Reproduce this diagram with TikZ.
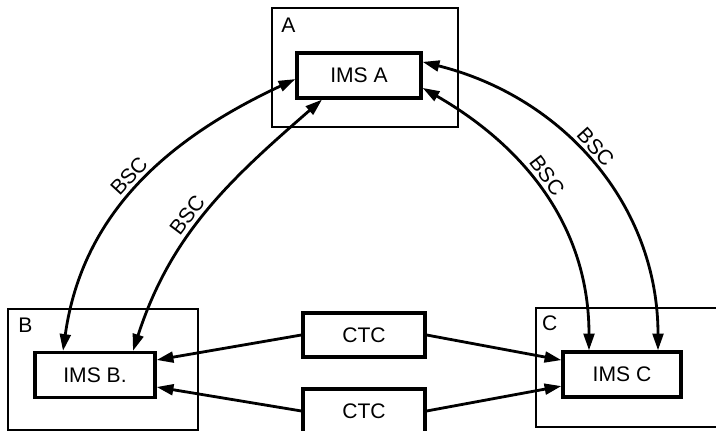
\documentclass[tikz,border=0pt]{standalone}
\usepackage{fontspec}
\setmainfont{Liberation Sans}
\usetikzlibrary{arrows.meta,calc,positioning}

\begin{document}
\begin{tikzpicture}[font=\fontsize{15}{18}\selectfont,
  site/.style={draw,line width=2.1pt,minimum height=2.975cm,inner sep=0pt},
  box/.style={draw,line width=2.3pt,minimum width=3cm,minimum height=1.125cm},
  lbl/.style={inner sep=0pt},
  link/.style={line width=2pt,-{Triangle[length=4.2mm,width=2.7mm]}},
  bsc/.style={line width=2pt,{Triangle[length=4.2mm,width=2.7mm]}-{Triangle[length=4.2mm,width=2.7mm]}}]
  \useasboundingbox (0,0) rectangle (17.9,10.775);
  \clip (0,0) rectangle (17.9,10.775);
  \node[site,minimum width=4.65cm] (sA) at (9.125,9.0875) {};
  \node[site,minimum width=4.75cm,minimum height=3.025cm] (sB) at (2.575,1.5375) {};
  \node[site,minimum width=5.6cm] (sC) at (16.2,1.5875) {};
  \node[lbl] (lA) at ([shift={(0.45,-0.47)}]sA.north west) {A};
  \node[lbl] (lB) at ([shift={(0.47,-0.45)}]sB.north west) {B};
  \node[lbl] (lC) at ([shift={(0.38,-0.43)}]sC.north west) {C};
  \node[box,minimum width=3.1cm] (iA) at (8.975,8.8875) {IMS A};
  \node[box] (iB) at (2.375,1.4) {IMS B.};
  \node[box,minimum width=2.95cm] (iC) at (15.55,1.4125) {IMS C};
  \node[box,minimum width=3.05cm,minimum height=1.1cm] (c1) at (9.1,2.4) {CTC};
  \node[box,minimum width=3.05cm,minimum height=1.1cm] (c2) at (9.1,0.5) {CTC};
  \draw[bsc] ([xshift=-0.8cm]iB.north) to[out=82,in=205] node[pos=0.5,sloped,above] (t1) {BSC} ([yshift=-0.09cm]iA.west);
  \draw[bsc] ([xshift=0.95cm]iB.north) to[out=72,in=221] node[pos=0.45,sloped,above] (t2) {BSC} ([xshift=-0.925cm]iA.south);
  \draw[bsc] ([yshift=0.34cm]iA.east) to[out=-14,in=90] node[pos=0.47,sloped,above] (t3) {BSC} ([xshift=0.9cm]iC.north);
  \draw[bsc] ([yshift=-0.31cm]iA.east) to[out=-30,in=90] node[pos=0.45,sloped,above] (t4) {BSC} ([xshift=-0.825cm]iC.north);
  \draw[link] (c1.west) -- ([yshift=0.375cm]iB.east);
  \draw[link] (c1.east) -- ([yshift=0.36cm]iC.west);
  \draw[link] (c2.west) -- ([yshift=-0.3cm]iB.east);
  \draw[link] (c2.east) -- ([yshift=-0.29cm]iC.west);
\end{tikzpicture}
\end{document}
